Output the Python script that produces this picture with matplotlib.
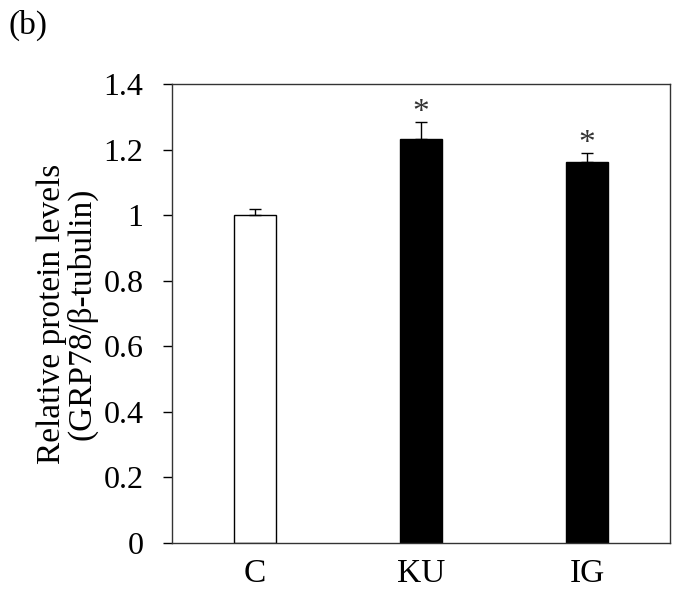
import numpy as np
import matplotlib
matplotlib.use("Agg")
import matplotlib.pyplot as plt

plt.rcParams['font.family'] = ['Liberation Serif', 'DejaVu Serif']

groups = ['C', 'KU', 'IG']
values = [1.0, 1.232, 1.161]
errors = [0.02, 0.052, 0.03]
colors = ['white', 'black', 'black']
stars = ['', '*', '*']

fig = plt.figure(figsize=(6.78, 5.92), dpi=100)
ax = fig.add_axes([172/678, 1 - 543/592, 498/678, 459/592])

x = np.arange(len(groups))
ax.bar(x, values, width=0.25, color=colors, edgecolor='black', linewidth=1.0,
       yerr=[np.zeros(len(errors)), errors], capsize=4.5,
       error_kw=dict(ecolor='black', elinewidth=1.0, capthick=1.0))

for xi, v, e, s in zip(x, values, errors, stars):
    if s:
        ax.text(xi, v + e + 0.002, s, ha='center', va='baseline', fontsize=24,
                color='#333333')

ax.set_xlim(-0.5, 2.5)
ax.set_ylim(0, 1.4)
ax.set_yticks(np.arange(0, 1.41, 0.2))
ax.set_yticklabels(['0', '0.2', '0.4', '0.6', '0.8', '1', '1.2', '1.4'])
ax.set_xticks(x)
ax.set_xticklabels(groups)
ax.tick_params(axis='y', direction='out', length=6.5, width=1, labelsize=23, pad=14)
ax.tick_params(axis='x', length=0, labelsize=24, pad=11)
for sp in ax.spines.values():
    sp.set_linewidth(1.0)
    sp.set_color('#333333')

ax.set_ylabel('Relative protein levels\n(GRP78/\u03b2-tubulin)', fontsize=24,
              linespacing=1.0, labelpad=4)
fig.text(8/678, 1 - 34/592, '(b)', fontsize=24)

fig.savefig('out.png', dpi=100)
